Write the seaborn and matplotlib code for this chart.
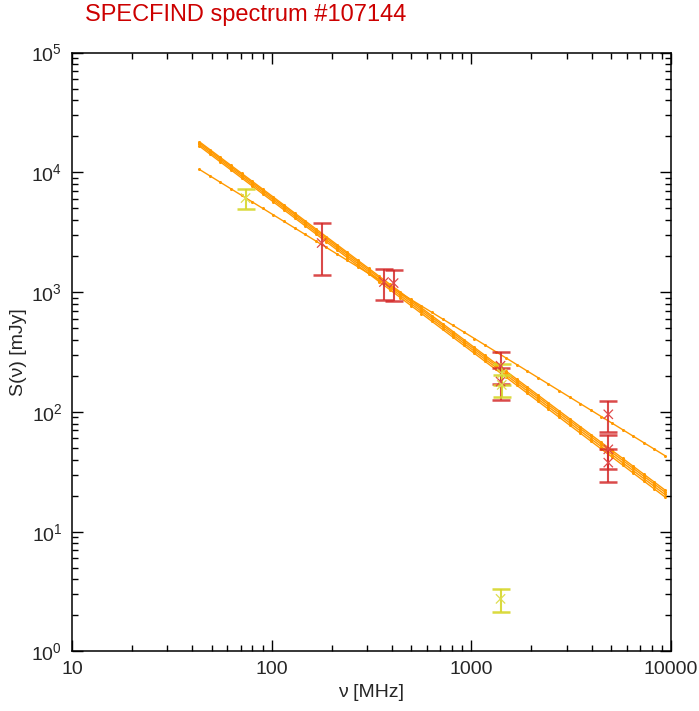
import matplotlib
matplotlib.use("Agg")
import numpy as np
import pandas as pd
import matplotlib.pyplot as plt
import seaborn as sns
from matplotlib.ticker import LogLocator, FixedLocator, FixedFormatter, NullFormatter

# ---- data ----
red_freq = [178, 365, 408, 1400, 1400, 4850, 4850, 4850]
red_flux = [2570, 1214, 1190, 243, 179, 95.5, 48.7, 37.7]
red_err = [1180, 360, 345, 72, 53, 28, 15.6, 11.6]

yel_freq = [74, 1420, 1420, 1400]
yel_flux = [6100, 209, 168, 2.75]
yel_err = [1200, 42, 35, 0.6]

# power-law fits: S = S1400 * (nu/1400)^alpha over the fit range
fit_numin = 43.4
fit_numax = 9310
fit_S1400 = [301, 237, 229, 220, 211]
fit_alpha = [-1.025, -1.247, -1.250, -1.253, -1.256]

x_ticks = [10, 100, 1000, 10000]
x_labels = ["10", "100", "1000", "10000"]
y_ticks = [1, 10, 100, 1000, 10000, 100000]
y_labels = [r"$10^{0}$", r"$10^{1}$", r"$10^{2}$", r"$10^{3}$", r"$10^{4}$", r"$10^{5}$"]

sns.set_style("ticks")
plt.rcParams["font.family"] = ["Liberation Sans", "DejaVu Sans"]
plt.rcParams["mathtext.fontset"] = "custom"
plt.rcParams["mathtext.rm"] = "Liberation Sans"
plt.rcParams["mathtext.default"] = "regular"

fig = plt.figure(figsize=(6.99, 7.11), dpi=100)
ax = fig.add_axes([0.103, 0.0837, 0.857, 0.8424])

# fits
rows = []
nu = np.logspace(np.log10(fit_numin), np.log10(fit_numax), 45)
for i, (s, a) in enumerate(zip(fit_S1400, fit_alpha)):
    for v in nu:
        rows.append({"fit": i, "nu": v, "S": s * (v / 1400.0) ** a})
fits = pd.DataFrame(rows)
sns.lineplot(data=fits, x="nu", y="S", units="fit", estimator=None,
             color="#ff9900", lw=1.0, marker="o", markersize=2.2,
             markeredgewidth=0, ax=ax, legend=False)

red_col = "#d42a2a"
yel_col = "#d6d62a"
ax.errorbar(red_freq, red_flux, yerr=red_err, fmt="none", ecolor=red_col,
            elinewidth=1.5, capsize=6.5, capthick=1.8, alpha=0.85, zorder=3)
ax.errorbar(yel_freq, yel_flux, yerr=yel_err, fmt="none", ecolor=yel_col,
            elinewidth=1.5, capsize=6.5, capthick=1.8, alpha=0.9, zorder=3)
pts = pd.DataFrame({"nu": red_freq + yel_freq, "S": red_flux + yel_flux,
                    "src": ["r"] * len(red_freq) + ["y"] * len(yel_freq)})
sns.scatterplot(data=pts, x="nu", y="S", hue="src",
                palette={"r": "#e04848", "y": "#dede50"}, marker="x",
                s=45, linewidth=0.9, ax=ax, legend=False, zorder=4)

ax.set_xscale("log")
ax.set_yscale("log")
ax.set_xlim(10, 10000)
ax.set_ylim(1, 100000)
ax.xaxis.set_major_locator(FixedLocator(x_ticks))
ax.xaxis.set_major_formatter(FixedFormatter(x_labels))
ax.xaxis.set_minor_locator(LogLocator(base=10, subs=np.arange(2, 10)))
ax.xaxis.set_minor_formatter(NullFormatter())
ax.yaxis.set_major_locator(FixedLocator(y_ticks))
ax.yaxis.set_major_formatter(FixedFormatter(y_labels))
ax.yaxis.set_minor_locator(LogLocator(base=10, subs=np.arange(2, 10)))
ax.yaxis.set_minor_formatter(NullFormatter())

ax.tick_params(which="both", direction="in", top=True, right=True,
               color="black", width=1.0)
ax.tick_params(which="major", length=8, labelsize=14, pad=7)
ax.tick_params(which="minor", length=4)
for sp in ax.spines.values():
    sp.set_linewidth(1.1)
    sp.set_color("black")

ax.set_xlabel("ν [MHz]", fontsize=14, labelpad=4)
ax.set_ylabel("S(ν) [mJy]", fontsize=14, labelpad=3)
fig.text(0.122, 0.979, "SPECFIND spectrum #107144", color="#cc0000",
         fontsize=17, ha="left", va="center")

fig.savefig("out.png", dpi=100)
